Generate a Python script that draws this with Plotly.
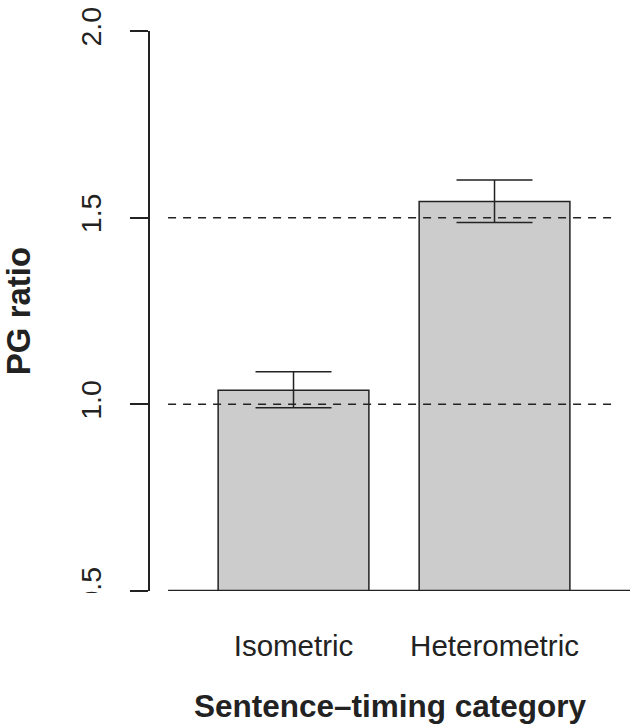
import plotly.graph_objects as go

categories = ["Isometric", "Heterometric"]
means = [1.038, 1.543]
err_upper = [1.087, 1.601]
err_lower = [0.991, 1.487]
ref_lines = [1.0, 1.5]
y_ticks = [0.5, 1.0, 1.5, 2.0]
y_ticktext = ["0.5", "1.0", "1.5", "2.0"]

xpos = [1, 2]
FONT = "Liberation Sans, Arial, Helvetica, sans-serif"
INK = "#222222"

fig = go.Figure()
fig.add_trace(go.Bar(
    x=xpos, y=means, width=0.75,
    marker=dict(color="#cccccd", line=dict(color=INK, width=1.5)),
    error_y=dict(type="data", symmetric=False,
                 array=[u - m for u, m in zip(err_upper, means)],
                 arrayminus=[m - l for m, l in zip(means, err_lower)],
                 color=INK, thickness=1.5, width=38),
    showlegend=False, hoverinfo="skip",
))

shapes = []
for v in ref_lines:
    shapes.append(dict(type="line", xref="x", yref="y", x0=0.376, x1=2.614, y0=v, y1=v,
                       line=dict(color=INK, width=1.5, dash="8px,7px"), layer="above"))
shapes.append(dict(type="line", xref="x", yref="y", x0=0.376, x1=2.674, y0=0.5, y1=0.5,
                   line=dict(color=INK, width=2.5), layer="above"))
# mask reproducing the clipped lowest tick label
shapes.append(dict(type="rect", xref="paper", yref="paper", x0=-0.16, x1=-0.06, y0=-0.045, y1=-0.0035,
                   fillcolor="white", line=dict(width=0), layer="above"))

fig.update_layout(
    width=630, height=725,
    margin=dict(l=150, r=0, t=31, b=134),
    paper_bgcolor="white", plot_bgcolor="white",
    font=dict(family=FONT, color=INK, size=29),
    shapes=shapes,
    xaxis=dict(range=[0.286, 2.674], tickvals=xpos, ticktext=categories,
               showgrid=False, zeroline=False, showline=False, ticks="",
               ticklabelstandoff=34, tickfont=dict(size=29.5),
               title=dict(text="<b>Sentence–timing category</b>", font=dict(size=31.5), standoff=34)),
    yaxis=dict(range=[0.5, 2.0], tickvals=y_ticks, ticktext=y_ticktext,
               showgrid=False, zeroline=False, showline=True, linecolor=INK, linewidth=1.5,
               ticks="outside", ticklen=18, tickwidth=1.5, tickcolor=INK,
               tickangle=-90, tickfont=dict(size=28.5), ticklabelstandoff=18,
               title=dict(text="<b>PG ratio</b>", font=dict(size=33), standoff=37)),
)

fig.write_html("out.html", config={"displayModeBar": False},
               post_script="document.body.style.margin='0';document.body.style.overflow='hidden';")
